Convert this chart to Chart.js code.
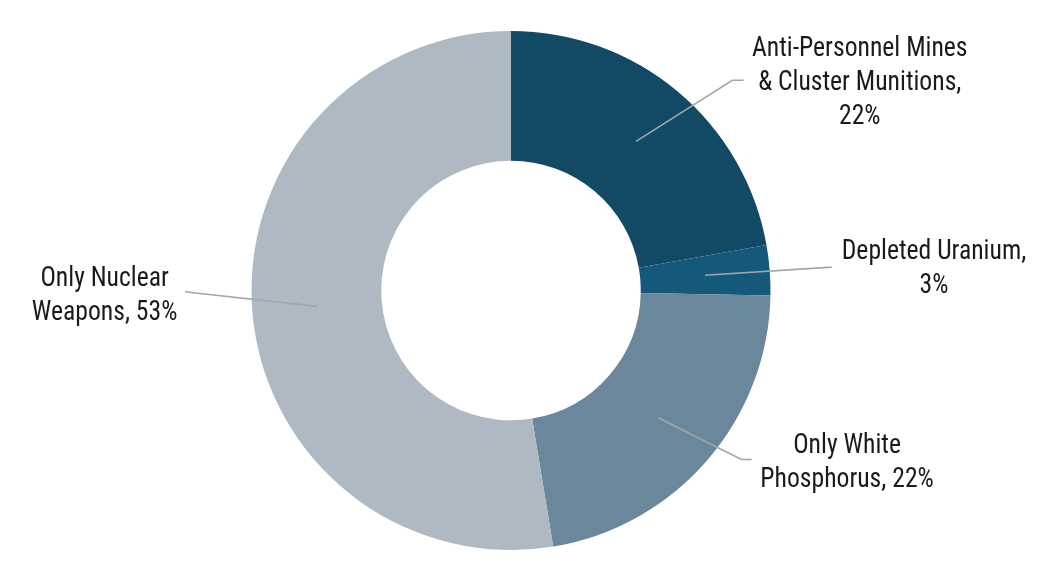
<!DOCTYPE html>
<html>
<head>
<meta charset="utf-8">
<script src="https://cdn.jsdelivr.net/npm/chart.js@4"></script>
<style>
  html, body { margin: 0; padding: 0; background: #ffffff; }
  #wrap { width: 1044px; height: 583px; position: relative; }
</style>
</head>
<body>
<div id="wrap"><canvas id="c"></canvas></div>
<script>
// ---- data ----
const categories = [
  'Anti-Personnel Mines & Cluster Munitions',
  'Depleted Uranium',
  'Only White Phosphorus',
  'Only Nuclear Weapons'
];
const shares = [22.2, 3.1, 22.1, 52.6];
const labelLines = [
  ['Anti-Personnel Mines', '& Cluster Munitions,', '{p}'],
  ['Depleted Uranium,', '{p}'],
  ['Only White', 'Phosphorus, {p}'],
  ['Only Nuclear', 'Weapons, {p}']
];
const sliceColors = ['#124964', '#14597a', '#6a879b', '#aeb9c4'];

// label placement, in units of the outer radius relative to the centre
const labelPlacement = [
  { elbow: [0.853, -0.810], end: [0.896, -0.810], text: [1.344, -0.808] },
  { elbow: [1.236, -0.090], end: [1.236, -0.090], text: [1.630, -0.093] },
  { elbow: [0.888, 0.651],  end: [0.927, 0.651],  text: [1.295, 0.655] },
  { elbow: [-1.233, 0.008], end: [-1.256, 0.004], text: [-1.566, 0.010] }
];

const FONT_SIZE = 27;
const SCALE_X = 0.95;
const LINE_H = 34;
const FONT = FONT_SIZE + "px 'Roboto Condensed', 'DejaVu Sans Condensed', sans-serif";

const leaderPlugin = {
  id: 'leaders',
  afterDatasetsDraw(chart) {
    const ctx = chart.ctx;
    const meta = chart.getDatasetMeta(0);
    meta.data.forEach((arc, i) => {
      const p = arc.getProps(['x', 'y', 'startAngle', 'endAngle', 'innerRadius', 'outerRadius'], true);
      const mid = (p.startAngle + p.endAngle) / 2;
      const rMid = (p.innerRadius + p.outerRadius) / 2;
      const R = p.outerRadius;
      const ax = p.x + Math.cos(mid) * rMid;
      const ay = p.y + Math.sin(mid) * rMid;
      const pl = labelPlacement[i];
      const ex = p.x + pl.elbow[0] * R, ey = p.y + pl.elbow[1] * R;
      const fx = p.x + pl.end[0] * R, fy = p.y + pl.end[1] * R;
      ctx.save();
      ctx.strokeStyle = '#a5a5a5';
      ctx.lineWidth = 1.6;
      ctx.beginPath();
      ctx.moveTo(ax, ay);
      ctx.lineTo(ex, ey);
      ctx.lineTo(fx, fy);
      ctx.stroke();

      const pct = Math.round(shares[i]) + '%';
      const lines = labelLines[i].map(s => s.replace('{p}', pct));
      const tx = p.x + pl.text[0] * R;
      const tyC = p.y + pl.text[1] * R;
      ctx.font = FONT;
      ctx.fillStyle = '#1a1a1a';
      ctx.textAlign = 'center';
      ctx.textBaseline = 'alphabetic';
      const n = lines.length;
      lines.forEach((ln, k) => {
        const cy = tyC + (k - (n - 1) / 2) * LINE_H;
        ctx.save();
        ctx.translate(tx, cy + 0.355 * FONT_SIZE);
        ctx.scale(SCALE_X, 1);
        ctx.fillText(ln, 0, 0);
        ctx.restore();
      });
      ctx.restore();
    });
  }
};

new Chart(document.getElementById('c'), {
  type: 'doughnut',
  data: {
    labels: categories,
    datasets: [{
      data: shares,
      backgroundColor: sliceColors,
      borderColor: '#ffffff',
      borderWidth: 0,
      hoverOffset: 0
    }]
  },
  options: {
    responsive: true,
    maintainAspectRatio: false,
    animation: false,
    cutout: '50%',
    layout: { padding: { top: 31, bottom: 33, left: 0, right: 22 } },
    plugins: {
      legend: { display: false },
      tooltip: { enabled: false }
    }
  },
  plugins: [leaderPlugin]
});
</script>
</body>
</html>
